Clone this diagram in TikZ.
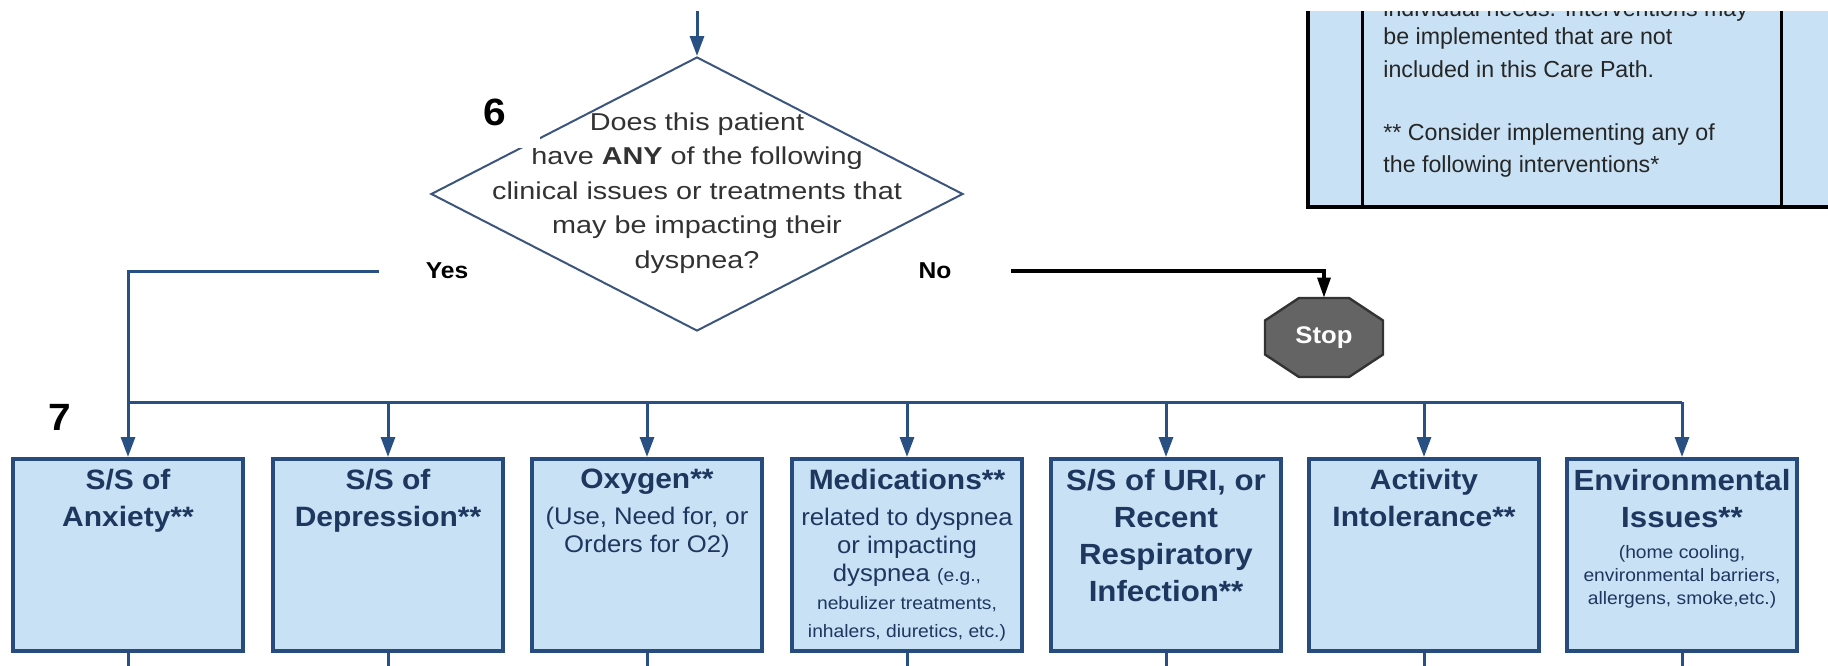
\documentclass[tikz,border=0pt]{standalone}
\usepackage{fontspec}
\setmainfont[FakeStretch=1.07]{Liberation Sans}
\newfontfamily\widefont[FakeStretch=1.18]{Liberation Sans}
\newfontfamily\plainfont{Liberation Sans}
\usepackage{tikz}
\usetikzlibrary{positioning,shapes.geometric,arrows.meta,calc}
\definecolor{boxfill}{RGB}{200,225,245}
\definecolor{boxline}{RGB}{40,75,125}
\definecolor{flowblue}{RGB}{40,80,130}
\definecolor{boxtext}{RGB}{30,55,95}
\definecolor{qline}{RGB}{60,85,125}
\definecolor{qtextcol}{RGB}{50,50,50}
\definecolor{stopgray}{RGB}{100,100,100}
\newcommand{\boxhead}[2][14]{{\fontsize{#1}{18.5}\selectfont\bfseries #2\par}}
\newcommand{\boxsub}[1]{\vspace{4pt}{\fontsize{12}{14}\selectfont #1\par}}
\newcommand{\boxfine}[1]{\vspace{4pt}{\fontsize{9}{11.5}\selectfont #1\par}}
\newcommand{\boxsmall}{\fontsize{9}{11.5}\selectfont}
\newcommand{\cpbox}[1]{\parbox[c][86pt][t]{112pt}{\centering #1}}
\tikzset{carebox/.style={draw=boxline, line width=2pt, fill=boxfill, text=boxtext,
        minimum width=115pt, minimum height=96pt, inner sep=0pt},
    decision/.style={draw=qline, line width=1pt, diamond, fill=white,
        minimum width=266pt, minimum height=137pt, inner sep=0pt},
    qtext/.style={font=\widefont\fontsize{12.2}{17.25}\selectfont, align=center,
        text=qtextcol, inner sep=0pt},
    notetext/.style={font=\plainfont\fontsize{11.6}{16.25}\selectfont, align=left,
        text=black!85, inner sep=0pt},
    flow/.style={draw=flowblue, line width=1.5pt},
    arrowflow/.style={flow, -{Triangle[length=10pt,width=7pt]}},
    noflow/.style={draw=black, line width=1.6pt, -{Triangle[length=10pt,width=6.5pt]}},
    stepnum/.style={font=\fontsize{19}{19}\selectfont\bfseries},
    answer/.style={font=\fontsize{11.5}{13}\selectfont\bfseries},
    stopsign/.style={minimum width=59pt, minimum height=39.5pt, inner sep=0pt,
        text=white, font=\fontsize{12}{14}\selectfont\bfseries},
    stopfill/.style={fill=stopgray, draw=black!80, line width=1.2pt, line join=miter}
}
\begin{document}
\begin{tikzpicture}[x=0.5pt, y=-0.5pt]
            \useasboundingbox (0,0) rectangle (1828,665);
            \clip (0,11) rectangle (1828,665);
            \fill[boxfill] (1308,-20) rectangle (1900,207);
            \draw[black, line width=2pt] (1308,-20) -- (1308,207) -- (1900,207);
            \draw[black, line width=1.5pt] (1362,-20) -- (1362,207) (1781,-20) -- (1781,207);
            \node[notetext, anchor=north west] (note) at (1383,-1) {individual needs. Interventions may\\[-2pt]be implemented that are not\\included in this Care Path.\\[15.25pt]** Consider implementing any of\\the following interventions*};
            \coordinate (top) at (697,0);
            \node[decision] (q6) at (697,194) {};
            \node[qtext, anchor=north] (q6text) at (697,112) {Does this patient\\have \textbf{ANY} of the following\\clinical issues or treatments that\\may be impacting their\\dyspnea?};
            \node[stepnum, fill=white, minimum width=45pt, minimum height=36pt] (n6) at (495,112) {6};
            \node[stepnum] (n7) at (60,417) {7};
            \node[answer] (yes) at (447,271) {Yes};
            \node[answer] (no) at (935,271) {No};
            \coordinate (stopc) at (1324,337.5);
            \filldraw[stopfill] ($(stopc)+(-25,-39.5)$) -- ($(stopc)+(25,-39.5)$) -- ($(stopc)+(59,-17)$) -- ($(stopc)+(59,17)$) -- ($(stopc)+(25,39.5)$) -- ($(stopc)+(-25,39.5)$) -- ($(stopc)+(-59,17)$) -- ($(stopc)+(-59,-17)$) -- cycle;
            \node[stopsign] (stop) at (stopc) {Stop};
            \node[carebox] (anx) at (128,555) {\cpbox{\boxhead{S/S of\\Anxiety**}}};
            \node[carebox] (dep) at (388,555) {\cpbox{\boxhead{S/S of\\Depression**}}};
            \node[carebox] (oxy) at (647,555) {\cpbox{\boxhead{Oxygen**}\boxsub{(Use, Need for, or\\Orders for O2)}}};
            \node[carebox] (med) at (907,555) {\cpbox{\boxhead{Medications**}\boxsub{related to dyspnea\\or impacting\\dyspnea {\boxsmall (e.g.,}\\{\boxsmall nebulizer treatments,}\\{\boxsmall inhalers, diuretics, etc.)}}}};
            \node[carebox] (uri) at (1166,555) {\cpbox{\boxhead[14.6]{S/S of URI, or\\Recent\\Respiratory\\Infection**}}};
            \node[carebox] (act) at (1424,555) {\cpbox{\boxhead{Activity\\Intolerance**}}};
            \node[carebox] (env) at (1682,555) {\cpbox{\boxhead[14.6]{Environmental\\Issues**}\boxfine{(home cooling,\\environmental barriers,\\allergens, smoke,etc.)}}};
            \coordinate (busL) at (128,402);
            \coordinate (busR) at (1682,402);
            \draw[arrowflow] (top) -- (q6.north);
            \draw[flow] ([xshift=-20pt]yes.west) -| (busL) -- (busR);
            \draw[noflow] ([xshift=26.5pt]no.east) -| (stop.north);
            \draw[arrowflow] (anx.north |- busL) -- (anx.north);
            \draw[arrowflow] (dep.north |- busL) -- (dep.north);
            \draw[arrowflow] (oxy.north |- busL) -- (oxy.north);
            \draw[arrowflow] (med.north |- busL) -- (med.north);
            \draw[arrowflow] (uri.north |- busL) -- (uri.north);
            \draw[arrowflow] (act.north |- busL) -- (act.north);
            \draw[arrowflow] (env.north |- busL) -- (env.north);
            \draw[flow] (anx.south) -- ++(0,40);
            \draw[flow] (dep.south) -- ++(0,40);
            \draw[flow] (oxy.south) -- ++(0,40);
            \draw[flow] (med.south) -- ++(0,40);
            \draw[flow] (uri.south) -- ++(0,40);
            \draw[flow] (act.south) -- ++(0,40);
            \draw[flow] (env.south) -- ++(0,40);
        \end{tikzpicture}
\end{document}
